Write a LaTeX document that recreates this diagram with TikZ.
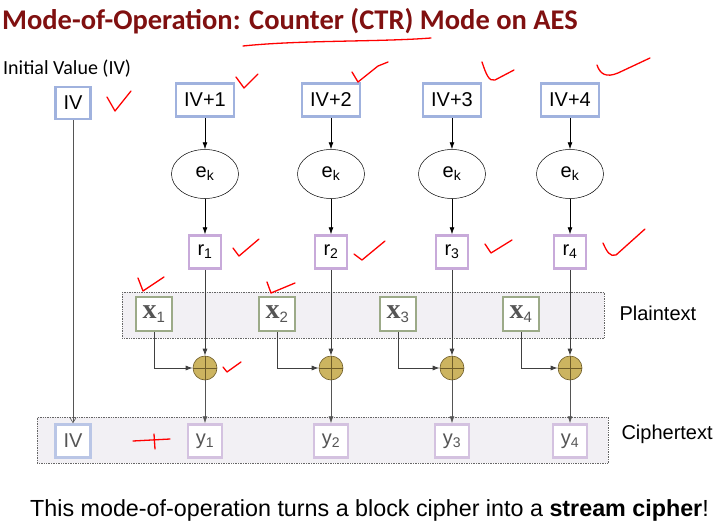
\documentclass[tikz,border=0pt]{standalone}
\usepackage{fontspec}
\setmainfont{Liberation Sans}
\newfontfamily\titlefont{Carlito}
\newfontfamily\codefont{Liberation Serif}
\usetikzlibrary{arrows.meta,shapes.geometric}

\definecolor{titlered}{RGB}{128,16,16}
\definecolor{ivblue}{RGB}{160,178,222}
\definecolor{ivfade}{RGB}{186,198,230}
\definecolor{rpurple}{RGB}{200,170,218}
\definecolor{ypurple}{RGB}{212,194,224}
\definecolor{xgreen}{RGB}{156,170,136}
\definecolor{bandgray}{RGB}{242,240,244}
\definecolor{xorgold}{RGB}{204,180,96}
\definecolor{xoredge}{RGB}{110,92,40}
\definecolor{fadetext}{RGB}{85,85,85}

\tikzset{
  lbl/.style={font=\fontsize{20}{20}\selectfont},
  ivbox/.style={draw=ivblue, line width=2.5pt, fill=white, inner sep=0pt, minimum width=58pt, minimum height=33pt, lbl},
  rbox/.style={draw=rpurple, line width=2.5pt, fill=white, inner sep=0pt, minimum width=32pt, minimum height=33pt, lbl},
  ybox/.style={draw=ypurple, line width=2.5pt, fill=white, inner sep=0pt, minimum width=34pt, minimum height=33pt, lbl, text=fadetext},
  xbox/.style={draw=xgreen, line width=2.5pt, fill=white, inner sep=0pt, minimum width=36pt, minimum height=34pt, font=\codefont\bfseries\fontsize{28}{28}\selectfont, text=fadetext},
  enc/.style={draw, ellipse, line width=0.5pt, inner sep=0pt, minimum width=67pt, minimum height=49pt, lbl},
  xorop/.style={draw=xoredge, circle, fill=xorgold, line width=0.6pt, inner sep=0pt, minimum size=24pt},
  band/.style={draw=gray!80!black, densely dotted, fill=bandgray, line width=0.7pt, inner sep=0pt, anchor=north west},
  wire/.style={line width=0.8pt, -{Latex[length=7pt,width=5pt]}},
  pen/.style={red, line width=1.3pt, line cap=round, line join=round}
}

\begin{document}
\begin{tikzpicture}[x=1pt, y=-1pt]
\useasboundingbox (0,0) rectangle (718,525);

\node[anchor=base west, inner sep=0pt, text=titlered, font=\titlefont\bfseries\fontsize{28.5}{28.5}\selectfont] (title) at (2,29) {Mode-of-Operation: Counter (CTR) Mode on AES};
\node[anchor=base west, inner sep=0pt, font=\titlefont\fontsize{20}{20}\selectfont] (ivlabel) at (3,74) {Initial Value (IV)};

\node[band, minimum width=482pt, minimum height=46pt] (plainband) at (122,292) {};
\node[band, minimum width=571pt, minimum height=46pt] (cipherband) at (37,417) {};
\node[lbl, anchor=west] (plainlabel) at (616,313) {Plaintext};
\node[lbl, anchor=west] (cipherlabel) at (618,434) {Ciphertext};

\node[ivbox, minimum width=35pt, minimum height=32pt] (iv) at (73,103) {IV};
\node[ivbox, draw=ivfade, text=fadetext, minimum width=35pt, minimum height=33pt] (ivout) at (73,441) {IV};
\draw[line width=0.6pt, draw=fadetext, -{Straight Barb[length=5pt,width=6pt]}] (iv) -- (ivout);

\foreach \i/\x/\xx in {1/205/154, 2/331/277, 3/452/398, 4/570/521} {
  \node[ivbox] (ctr\i) at (\x,100) {IV+\i};
  \node[enc] (enc\i) at (\x,174) {e\textsubscript{k}};
  \node[rbox] (r\i) at (\x,252) {r\textsubscript{\i}};
  \node[xbox] (x\i) at (\xx,314) {x\textsubscript{\rmfamily\mdseries\fontsize{15}{15}\selectfont\i}};
  \node[xorop] (xor\i) at (\x,368) {};
  \node[ybox] (y\i) at (\x,441) {y\textsubscript{\i}};
  \draw[xoredge, line width=0.5pt] (xor\i.north) -- (xor\i.south) (xor\i.west) -- (xor\i.east);
  \draw[wire] (ctr\i) -- (enc\i);
  \draw[wire] (enc\i) -- (r\i);
  \draw[wire, draw=black!75] (r\i) -- (xor\i);
  \draw[wire, draw=black!75] (x\i.south) |- (xor\i.west);
  \draw[wire, draw=fadetext] (xor\i) -- (y\i);
}

% red pen marks
\draw[pen] (243,46) .. controls (300,40) and (380,42) .. (431,38);
\draw[pen] (107,97) -- (115,111) -- (131,91);
\draw[pen] (236,77) -- (244,88) -- (258,74);
\draw[pen] (352,72) -- (358,82) -- (378,66) -- (388,62);
\draw[pen] (482,62) .. controls (486,74) and (489,82) .. (495,80) -- (514,70);
\draw[pen] (597,65) .. controls (600,74) and (606,78) .. (618,73) -- (650,58);
\draw[pen] (233,248) -- (239,256) -- (259,239);
\draw[pen] (354,254) -- (362,260) -- (385,241);
\draw[pen] (485,244) -- (491,253) -- (512,240);
\draw[pen] (603,243) .. controls (607,252) and (610,257) .. (616,255) -- (645,229);
\draw[pen] (138,278) -- (143,291) -- (164,277);
\draw[pen] (267,282) -- (271,293) -- (295,283);
\draw[pen] (223,367) -- (227,372) -- (241,362);
\draw[pen] (133,441) -- (170,439) (154,434) -- (155,449);

\node[anchor=base west, inner sep=0pt, font=\fontsize{23.3}{23.3}\selectfont] (note) at (30,516) {This mode-of-operation turns a block cipher into a \textbf{stream cipher}!};
\end{tikzpicture}
\end{document}
